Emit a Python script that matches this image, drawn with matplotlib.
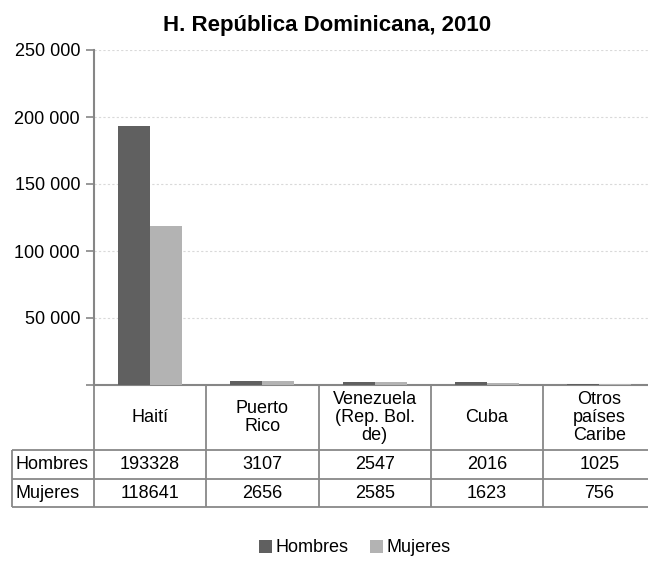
import matplotlib
matplotlib.use("Agg")
import matplotlib.pyplot as plt
from matplotlib.ticker import FuncFormatter

plt.rcParams["font.family"] = ["Liberation Sans", "DejaVu Sans"]

# Datos
paises = ["Haití", "Puerto\nRico", "Venezuela\n(Rep. Bol.\nde)", "Cuba", "Otros\npaíses\nCaribe"]
hombres = [193328, 3107, 2547, 2016, 1025]
mujeres = [118641, 2656, 2585, 1623, 756]
series = ["Hombres", "Mujeres"]
colores = ["#606060", "#b3b3b3"]

fig = plt.figure(figsize=(6.48, 5.69), dpi=100)
alto_px = 335
ancho_col_px = 112.3
ax = fig.add_axes([94 / 648, 1 - 385 / 569, 5 * ancho_col_px / 648, alto_px / 569])

x = range(len(paises))
ancho = 0.285
ax.bar([i - ancho / 2 for i in x], hombres, ancho, color=colores[0], label=series[0], zorder=3)
ax.bar([i + ancho / 2 for i in x], mujeres, ancho, color=colores[1], label=series[1], zorder=3)

ax.set_xlim(-0.5, len(paises) - 0.5)
ax.set_ylim(0, 250000)
ax.set_yticks(range(0, 250001, 50000))
ax.yaxis.set_major_formatter(
    FuncFormatter(lambda v, p: "" if v == 0 else f"{int(v):,}".replace(",", " "))
)
ax.tick_params(axis="y", labelsize=13, length=6, color="#868686", width=1.2, pad=4)
ax.set_xticks([])
ax.yaxis.grid(True, linestyle=(0, (2, 2)), color="#d9d9d9", linewidth=0.8, zorder=0)
for s in ["top", "right"]:
    ax.spines[s].set_visible(False)
for s in ["left", "bottom"]:
    ax.spines[s].set_color("#868686")
    ax.spines[s].set_linewidth(1.5)

# Tabla de datos (x en datos, y en fracción de ejes)
tr = ax.get_xaxis_transform()
filas_y = [0, -65 / alto_px, -94 / alto_px, -122 / alto_px]
x_izq = -0.5 - 82 / ancho_col_px
x_der = len(paises) - 0.5
borde = dict(color="#888888", lw=1.3, clip_on=False, transform=tr, solid_capstyle="butt")

for y in filas_y[1:]:
    ax.plot([x_izq, x_der], [y, y], **borde)
ax.plot([x_izq, x_izq], [filas_y[1], filas_y[3]], **borde)
for i in range(len(paises) + 1):
    ax.plot([i - 0.5, i - 0.5], [0, filas_y[3]], **borde)

for i, nombre in enumerate(paises):
    ax.text(i, (filas_y[0] + filas_y[1]) / 2, nombre, transform=tr, ha="center",
            va="center", fontsize=13, linespacing=1.1)
for fila, (serie, valores) in enumerate(zip(series, [hombres, mujeres])):
    y_c = (filas_y[fila + 1] + filas_y[fila + 2]) / 2
    ax.text(x_izq + 4 / ancho_col_px, y_c, serie, transform=tr, ha="left",
            va="center", fontsize=13)
    for i, v in enumerate(valores):
        ax.text(i, y_c, str(v), transform=tr, ha="center", va="center", fontsize=13)

fig.text(0.505, 1 - 25 / 569, "H. República Dominicana, 2010",
         ha="center", va="center", fontsize=16, fontweight="bold")

fig.legend(loc="center", bbox_to_anchor=(0.548, 1 - 548 / 569), ncol=2, frameon=False,
           fontsize=13, handlelength=0.7, handleheight=0.7, handletextpad=0.2,
           columnspacing=1.2)

fig.savefig("out.png", dpi=100)
